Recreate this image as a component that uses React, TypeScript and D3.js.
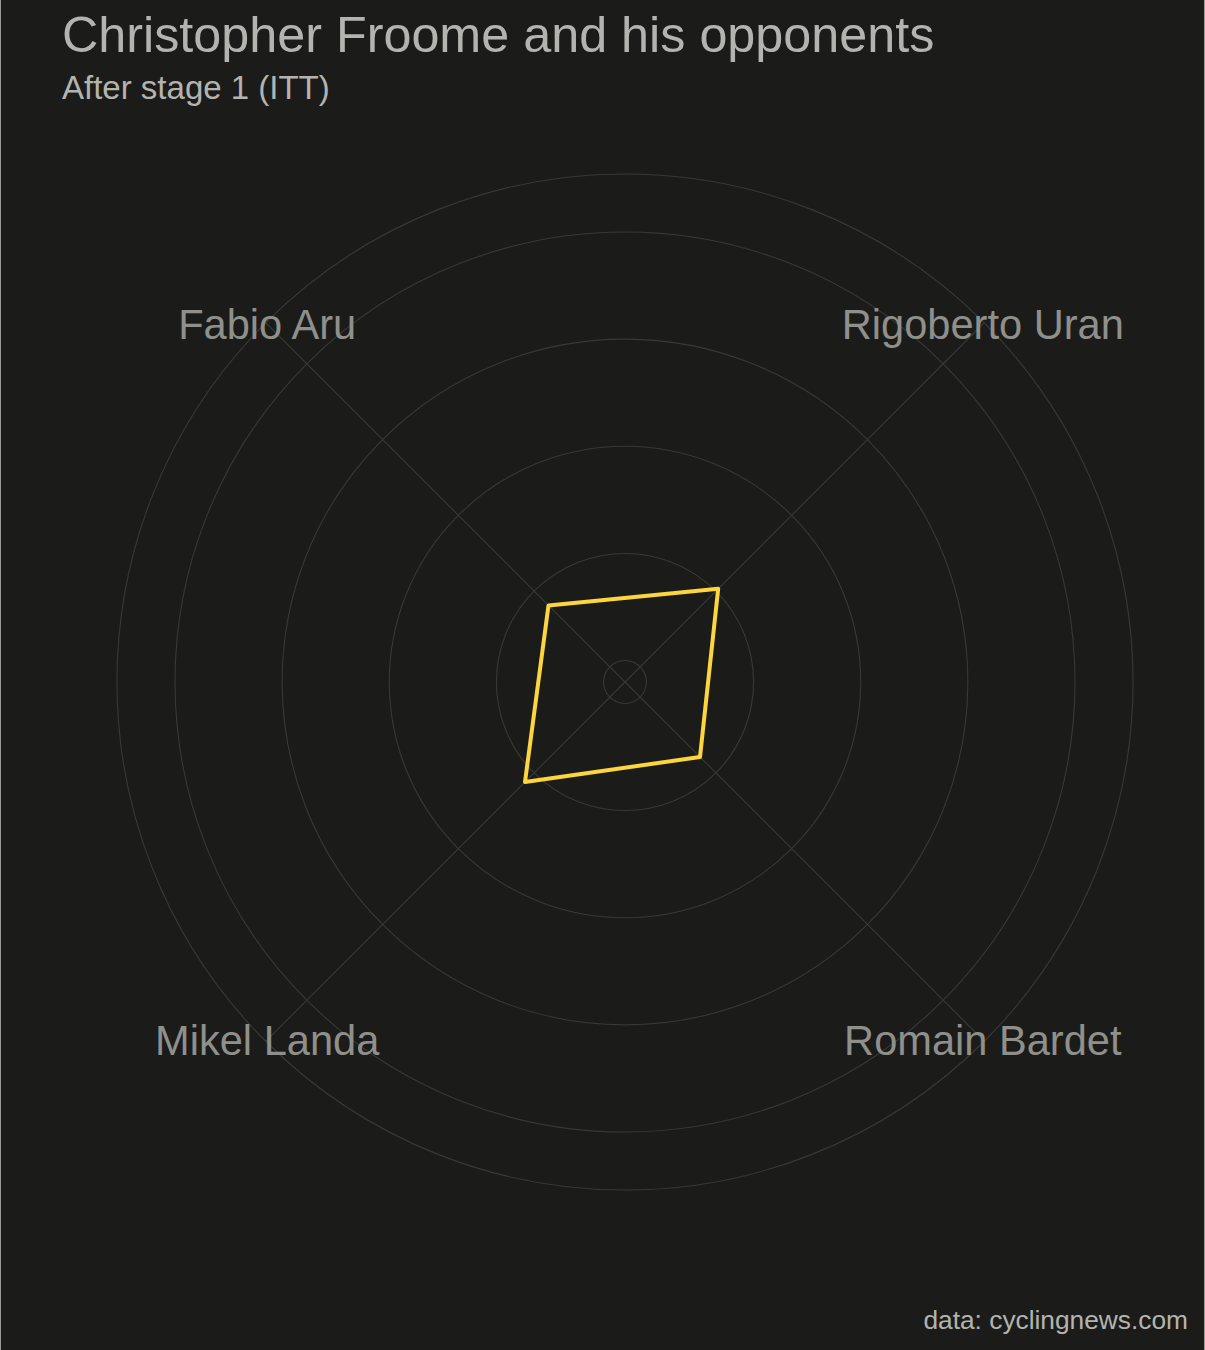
import React, { useEffect, useRef } from 'react';
import * as d3 from 'd3';

// riders in clockwise order starting from the top-right spoke
const riders = ['Rigoberto Uran', 'Romain Bardet', 'Mikel Landa', 'Fabio Aru'];
// gap values (radial units)
const gaps = [10.3, 7.9, 11.2, 8.1];
const gridBreaks = [0, 10, 20, 30, 40];

const title = 'Christopher Froome and his opponents';
const subtitle = 'After stage 1 (ITT)';
const caption = 'data: cyclingnews.com';

const App: React.FC = () => {
  const svgRef = useRef<SVGSVGElement | null>(null);

  useEffect(() => {
    if (!svgRef.current) return;

    const fullWidth = 1205;
    const fullHeight = 1350;
    const cx = 625;
    const cy = 682;
    const font = '"Liberation Sans", Arial, Helvetica, sans-serif';

    const svg = d3.select(svgRef.current)
      .attr('width', fullWidth)
      .attr('height', fullHeight)
      .attr('viewBox', `0 0 ${fullWidth} ${fullHeight}`);
    svg.selectAll('*').remove();

    // background
    svg.append('rect')
      .attr('width', fullWidth)
      .attr('height', fullHeight)
      .attr('fill', '#1b1c1a');
    svg.append('line')
      .attr('x1', 0.5).attr('x2', 0.5)
      .attr('y1', 0).attr('y2', fullHeight)
      .attr('stroke', '#9a9a96');
    svg.append('line')
      .attr('x1', fullWidth - 0.5).attr('x2', fullWidth - 0.5)
      .attr('y1', 0).attr('y2', fullHeight)
      .attr('stroke', '#9a9a96');

    // scales
    const r = d3.scaleLinear().domain([-2, 40]).range([0, 450]);
    const outerR = r.range()[1] * 1.129;
    const angle = d3.scaleBand<string>().domain(riders).range([0, 2 * Math.PI]);
    const theta = (name: string) => angle(name)! + angle.bandwidth() / 2;

    const g = svg.append('g').attr('transform', `translate(${cx},${cy})`);

    // circular grid
    g.selectAll('circle.grid')
      .data([...gridBreaks.map(b => r(b)), outerR])
      .join('circle')
      .attr('class', 'grid')
      .attr('r', d => d)
      .attr('fill', 'none')
      .attr('stroke', '#383937')
      .attr('stroke-width', 1.1);

    // spokes
    g.selectAll('line.spoke')
      .data(riders)
      .join('line')
      .attr('class', 'spoke')
      .attr('x1', 0)
      .attr('y1', 0)
      .attr('x2', d => outerR * Math.sin(theta(d)))
      .attr('y2', d => -outerR * Math.cos(theta(d)))
      .attr('stroke', '#383937')
      .attr('stroke-width', 1.1);

    // rider polygon
    const line = d3.lineRadial<number>()
      .angle((_, i) => theta(riders[i]))
      .radius(d => r(d))
      .curve(d3.curveLinearClosed);
    g.append('path')
      .attr('d', line(gaps))
      .attr('fill', 'none')
      .attr('stroke', '#fdd63e')
      .attr('stroke-width', 4)
      .attr('stroke-linejoin', 'round');

    // rider labels
    g.selectAll('text.label')
      .data(riders)
      .join('text')
      .attr('class', 'label')
      .attr('x', d => (outerR - 2) * Math.sin(theta(d)))
      .attr('y', d => -(outerR - 2) * Math.cos(theta(d)))
      .attr('dy', '0.36em')
      .attr('text-anchor', 'middle')
      .attr('font-family', font)
      .attr('font-size', 41.6)
      .attr('fill', '#8f908b')
      .text(d => d);

    // titles
    svg.append('text')
      .attr('x', 62)
      .attr('y', 52)
      .attr('font-family', font)
      .attr('font-size', 50.3)
      .attr('fill', '#b3b4af')
      .text(title);
    svg.append('text')
      .attr('x', 62)
      .attr('y', 99)
      .attr('font-family', font)
      .attr('font-size', 33)
      .attr('fill', '#b3b4af')
      .text(subtitle);
    svg.append('text')
      .attr('x', 1188)
      .attr('y', 1329)
      .attr('text-anchor', 'end')
      .attr('font-family', font)
      .attr('font-size', 26.3)
      .attr('fill', '#b3b4af')
      .text(caption);
  }, []);

  return (
    <svg
      ref={svgRef}
      style={{ position: 'absolute', left: 0, top: 0, display: 'block' }}
    />
  );
};

export default App;
